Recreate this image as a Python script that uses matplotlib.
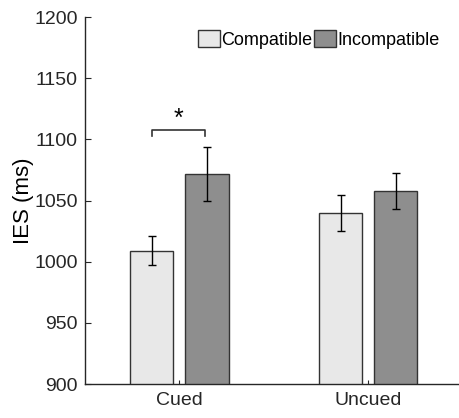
import matplotlib.pyplot as plt
import numpy as np

# données
conditions = ["Cued", "Uncued"]
compatible = [1009, 1040]
compatible_se = [12, 15]
incompatible = [1072, 1058]
incompatible_se = [22, 15]

plt.rcParams["font.family"] = ["Liberation Sans", "DejaVu Sans"]

fig = plt.figure(figsize=(4.59, 4.18), dpi=100)
ax = fig.add_axes([0.185, 0.081, 0.823, 0.878])

x = np.arange(1, len(conditions) + 1)
largeur = 0.229
decalage = 0.146

ax.bar(x - decalage, compatible, largeur, color="#e8e8e8", edgecolor="#333333",
       linewidth=1.0, label="Compatible", zorder=2)
ax.bar(x + decalage, incompatible, largeur, color="#8e8e8e", edgecolor="#333333",
       linewidth=1.0, label="Incompatible", zorder=2)
ax.errorbar(x - decalage, compatible, yerr=compatible_se, fmt="none",
            ecolor="black", elinewidth=1.0, capsize=3, capthick=1.0, zorder=3)
ax.errorbar(x + decalage, incompatible, yerr=incompatible_se, fmt="none",
            ecolor="black", elinewidth=1.0, capsize=3, capthick=1.0, zorder=3)

# barre de significativité
x1, x2 = x[0] - 0.145, x[0] + 0.135
ax.plot([x1, x1, x2, x2], [1103, 1108, 1108, 1103], color="#333333", linewidth=1.2)
ax.text((x1 + x2) / 2, 1107, "*", ha="center", va="bottom", fontsize=18)

ax.set_xlim(0.5, 2.5)
ax.set_ylim(900, 1200)
ax.set_yticks(np.arange(900, 1201, 50))
ax.set_xticks(x)
ax.set_xticklabels(conditions)
ax.set_ylabel("IES (ms)", fontsize=16, labelpad=0)

for s in ["top", "right"]:
    ax.spines[s].set_visible(False)
for s in ["left", "bottom"]:
    ax.spines[s].set_color("#262626")
    ax.spines[s].set_linewidth(1.0)
ax.tick_params(axis="both", direction="in", labelsize=14, colors="#262626",
               labelcolor="#262626")
ax.tick_params(axis="y", length=4, pad=5)
ax.tick_params(axis="x", length=3, pad=6)

ax.legend(loc="upper right", bbox_to_anchor=(0.94, 0.965), ncol=2, frameon=False,
          fontsize=13, handlelength=1.2, handleheight=1.1, handletextpad=0.1,
          columnspacing=0.1, borderaxespad=0, borderpad=0)

fig.savefig("out.png", dpi=100)
